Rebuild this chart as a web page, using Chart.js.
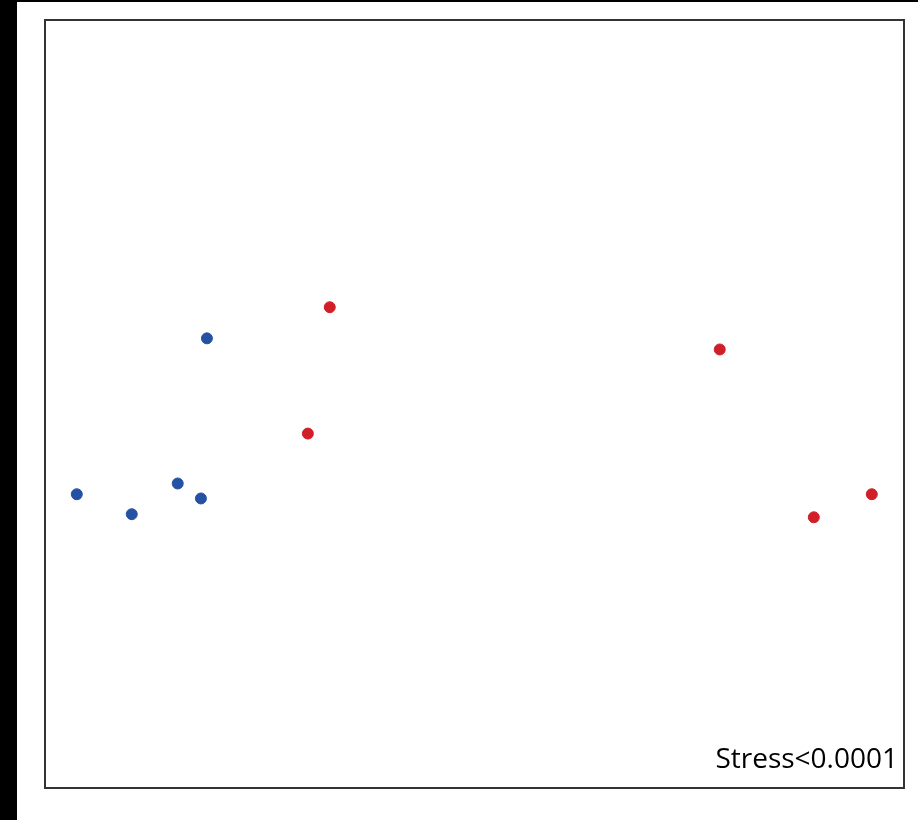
<!DOCTYPE html>
<html>
<head>
	<title>NMDS plot</title>
	<script src="https://cdn.jsdelivr.net/npm/chart.js@4.4.0/dist/chart.umd.min.js"></script>
	<style>
		body { margin: 0; background: #fff; }
		#wrap { position: relative; width: 918px; height: 820px; }
		#strip { position: absolute; left: 0; top: 0; width: 17px; height: 820px; background: #000; }
		#topline { position: absolute; left: 0; top: 0; width: 918px; height: 2px; background: #000; }
		canvas { position: absolute; left: 0; top: 0; }
	</style>
</head>
<body>
	<div id="wrap">
		<canvas id="canvas" width="918" height="820"></canvas>
		<div id="strip"></div>
		<div id="topline"></div>
	</div>
	<script type="text/javascript">
		// NMDS coordinates
		var groupAX = [-0.926, -0.798, -0.691, -0.637, -0.623];
		var groupAY = [-0.235, -0.287, -0.207, -0.246, 0.171];
		var groupBX = [-0.337, -0.388, 0.571, 0.790, 0.925];
		var groupBY = [0.252, -0.077, 0.142, -0.295, -0.235];
		var stressLabel = 'Stress<0.0001';

		function toPoints(xs, ys) {
			var pts = [];
			for (var i = 0; i < xs.length; i++) {
				pts.push({ x: xs[i], y: ys[i] });
			}
			return pts;
		}

		var framePlugin = {
			id: 'frame',
			afterDraw: function(chart) {
				var ctx = chart.ctx;
				var a = chart.chartArea;
				ctx.save();
				ctx.strokeStyle = '#333333';
				ctx.lineWidth = 2;
				ctx.strokeRect(a.left, a.top, a.right - a.left, a.bottom - a.top);
				ctx.fillStyle = '#000';
				ctx.font = '28px "Open Sans", sans-serif';
				ctx.textAlign = 'right';
				ctx.textBaseline = 'alphabetic';
				ctx.fillText(stressLabel, a.right - 6, a.bottom - 20);
				ctx.restore();
			}
		};

		window.onload = function() {
			var ctx = document.getElementById('canvas').getContext('2d');
			new Chart(ctx, {
				type: 'scatter',
				data: {
					datasets: [{
						label: 'Group A',
						data: toPoints(groupAX, groupAY),
						backgroundColor: '#2451a3',
						borderColor: '#2451a3',
						pointRadius: 5.5,
						pointHoverRadius: 5.5
					}, {
						label: 'Group B',
						data: toPoints(groupBX, groupBY),
						backgroundColor: '#d01f28',
						borderColor: '#d01f28',
						pointRadius: 5.5,
						pointHoverRadius: 5.5
					}]
				},
				options: {
					responsive: false,
					animation: false,
					layout: { padding: { left: 45, top: 20, right: 14, bottom: 32 } },
					plugins: {
						legend: { display: false },
						tooltip: { enabled: false }
					},
					scales: {
						x: { type: 'linear', min: -1, max: 1, display: false },
						y: { type: 'linear', min: -1, max: 1, display: false }
					}
				},
				plugins: [framePlugin]
			});
		};
	</script>
</body>
</html>
